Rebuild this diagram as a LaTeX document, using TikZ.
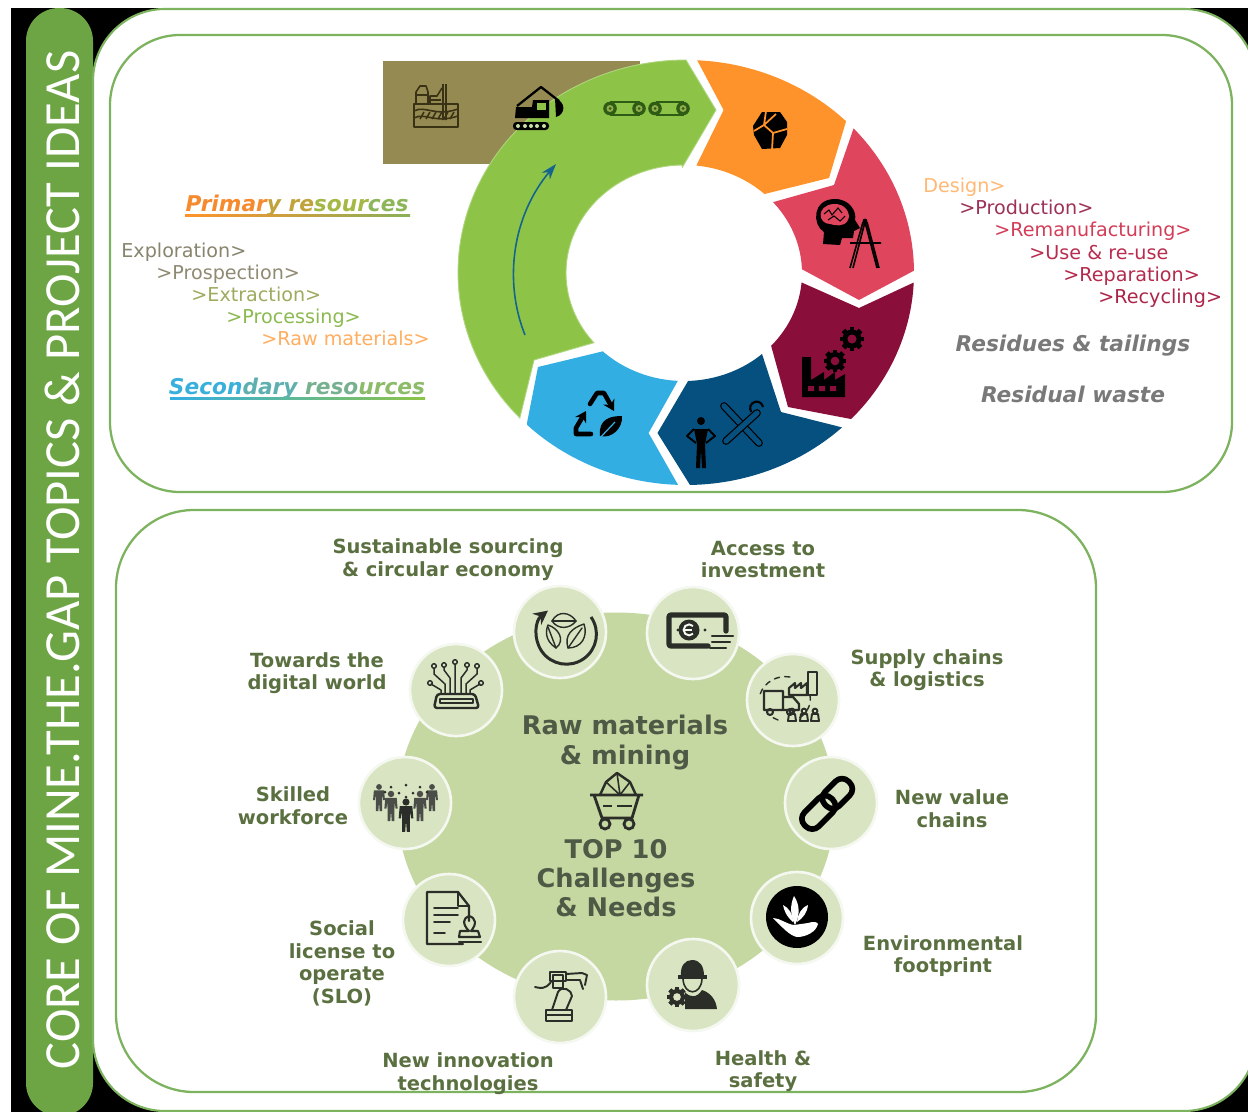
\documentclass[tikz,border=0pt]{standalone}
\usepackage{fontspec}
\setmainfont{DejaVu Sans}
\newfontfamily\barfont{Carlito}
\usetikzlibrary{arrows.meta}
\definecolor{barg}{HTML}{6DA544}
\definecolor{edgeg}{HTML}{7DB35F}
\definecolor{segG}{HTML}{8DC447}
\definecolor{segO}{HTML}{FF932B}
\definecolor{segR}{HTML}{E0455E}
\definecolor{segM}{HTML}{8A0E3A}
\definecolor{segB}{HTML}{05507F}
\definecolor{segL}{HTML}{33AEE3}
\definecolor{brownr}{HTML}{958A52}
\definecolor{minek}{HTML}{3A3214}
\definecolor{convk}{HTML}{2F5C14}
\definecolor{bigc}{HTML}{C6D8A2}
\definecolor{smallc}{HTML}{D9E4C2}
\definecolor{lab}{HTML}{5B7040}
\definecolor{cent}{HTML}{4E5A45}
\definecolor{ink}{HTML}{2B2E28}
\tikzset{
 lab/.style={font=\fontsize{11.1}{12.8}\selectfont\bfseries,text=lab,align=center,inner sep=0},
 cen/.style={font=\fontsize{14.6}{16.6}\selectfont\bfseries,text=cent,align=center,inner sep=0},
 flow/.style={font=\fontsize{10.9}{12}\selectfont,anchor=base west,inner sep=0},
 heada/.style={font=\fontsize{12.35}{14}\selectfont\bfseries\itshape,inner sep=0},
 disc/.style={circle,fill=smallc,draw=white!75!smallc,line width=1.5pt,minimum size=92*0.02cm,inner sep=0},
 thin1/.style={line width=.8pt,draw=ink,line cap=round,line join=round},
 thick1/.style={line width=1.5pt,draw=ink,line cap=round,line join=round},
}
\newcommand\iperson[4]{\begin{scope}[shift={(#1,#2)},scale=#3]
\fill[#4] (0,-9.5) circle (3.4);
\fill[#4] (-6,-5.5)--(6,-5.5)--(7,6)--(4.8,6)--(4,-1)--(3.6,6)--(3.6,19)--(0.8,19)--(0,8)--(-0.8,19)--(-3.6,19)--(-3.6,6)--(-4,-1)--(-4.8,6)--(-7,6)--cycle;
\end{scope}}
\newcommand\igear[5]{\begin{scope}[shift={(#1,#2)}]
\foreach \a in {0,45,...,315}{\fill[#4,rotate=\a] (-#3*0.26,-#3*1.25) rectangle (#3*0.26,#3*1.25);}
\fill[#4] (0,0) circle (#3);
\fill[#5] (0,0) circle (#3*0.48);
\end{scope}}
\newcommand\iwheel[2]{\fill[convk] (#1,#2) circle (6.8);\fill[segG!60!brownr] (#1,#2) circle (3.5);\fill[convk] (#1,#2) circle (1.5);}
\begin{document}
\begin{tikzpicture}[x=0.02cm,y=-0.02cm]
\useasboundingbox (0,0) rectangle (1248,1112);
\fill[white] (0,0) rectangle (1248,1112);
\fill[black] (11,8) rectangle (1248,1112);
\begin{scope}
\clip (0,0) rectangle (1248,1112);
\fill[barg,rounded corners=33*0.02cm] (26,8) rectangle (93,1116);
\path[fill=white,draw=edgeg,line width=1.2pt,rounded corners=72*0.02cm] (93,9) rectangle (1256,1111);
\end{scope}
\node[rotate=90,text=white,inner sep=0,font=\barfont\fontsize{28.8}{32}\selectfont] (title) at (62,560) {CORE OF MINE.THE.GAP TOPICS \& PROJECT IDEAS};
% panels
\draw[edgeg,line width=1.3pt,rounded corners=70*0.02cm] (110,35) rectangle (1232,492);
\draw[edgeg,line width=1.3pt,rounded corners=78*0.02cm] (116,510) rectangle (1096,1092);
% brown strip
\fill[brownr] (383,61) rectangle (640,164);
% ring
\path[fill=segG,draw=segG!70!white,line width=.5pt] plot[domain=136.8:270,samples=70] ({686+228*cos(\x)},{272.5+212.5*sin(\x)}) -- (716,110) -- (682.5,167) -- plot[domain=269:139.8,samples=70] ({684+118*cos(\x)},{273+108*sin(\x)}) -- (534,360) -- cycle;
\fill[segO] plot[domain=272.8:314.6,samples=30] ({686+228*cos(\x)},{272.5+212.5*sin(\x)}) -- (829,178) -- plot[domain=313:276,samples=30] ({684+118*cos(\x)},{273+108*sin(\x)}) -- (723.6,110) -- cycle;
\fill[segR] plot[domain=317.3:359.5,samples=30] ({686+228*cos(\x)},{272.5+212.5*sin(\x)}) -- (859,300) -- plot[domain=358:319,samples=30] ({684+118*cos(\x)},{273+108*sin(\x)}) -- (834,185) -- cycle;
\fill[segM] plot[domain=2.7:43.6,samples=30] ({686+228*cos(\x)},{272.5+212.5*sin(\x)}) -- (788,407) -- plot[domain=42.4:5,samples=30] ({684+118*cos(\x)},{273+108*sin(\x)}) -- (859,308) -- cycle;
\fill[segB] plot[domain=46.8:89,samples=30] ({686+228*cos(\x)},{272.5+212.5*sin(\x)}) -- (657.5,433) -- plot[domain=88:48.6,samples=30] ({684+118*cos(\x)},{273+108*sin(\x)}) -- (781,412) -- cycle;
\fill[segL] plot[domain=92:134.2,samples=30] ({686+228*cos(\x)},{272.5+212.5*sin(\x)}) -- (527,423) -- (538,367) -- plot[domain=133.5:93,samples=30] ({684+118*cos(\x)},{273+108*sin(\x)}) -- (648.6,433) -- cycle;
% ring arrow
\coordinate (arA) at (525,335); \coordinate (arB) at (556,164);
\draw[line width=.9pt,draw=segB!60!segL!85!black,-{Stealth[length=9pt,width=6pt]}] (arA) .. controls (503,280) and (513,215) .. (arB);
% mine icon
\begin{scope}[draw=minek,line width=.9pt,line join=round]
\draw (414,104) rectangle (458,127);
\draw (414,111) .. controls (425,105) and (435,117) .. (458,109);
\draw (414,118) .. controls (425,112) and (435,124) .. (458,116);
\foreach \q in {420,426,...,450}{\draw (\q,119) -- (\q+4,112);}
\draw (416,103) -- (416,92) -- (420,86) -- (426,86) -- (428,92) -- (428,103);
\draw (416,95) -- (428,95) (430,103) -- (430,96) -- (437,96) -- (442,88) (443,84) -- (443,120) (446,84) -- (446,120);
\draw (430,100) -- (441,100);
\end{scope}
% excavator
\fill[black] (515,118) -- (516,107) -- (532,107) -- (533,100) -- (549,100) -- (549,118) -- cycle;
\fill[segG] (537,102.5) rectangle (546,110);
\draw[black,line width=1.3pt,line join=round] (517,106) -- (541,87) -- (559,101);
\fill[black] (555,98) .. controls (566,102) and (566,114) .. (556,117) -- cycle;
\fill[black,rounded corners=3.5*0.02cm] (513,122) rectangle (549,130);
\foreach \q in {518,525,531,537,544}{\fill[segG!50!white] (\q,126) circle (2);}
% conveyor
\draw[convk,line width=1.1pt] (610,102) -- (640,102) (610,115) -- (640,115) (656,102) -- (684,102) (656,115) -- (684,115);
\iwheel{610}{108.5}
\iwheel{639}{108.5}
\iwheel{655}{108.5}
\iwheel{683}{108.5}
% rock
\fill[black] (762,112) -- (780,112) -- (787,122) -- (787,135) -- (780,148) -- (762,149) -- (754,135) -- (753,126) -- cycle;
\draw[segO,line width=1pt] (766,111) -- (764,125) -- (754,131) (764,125) -- (773,133) -- (787,129) (773,133) -- (772,150) (764,125) -- (776,114);
% head and compass
\fill[black] (835,199) .. controls (850,199) and (857,212) .. (855,220) -- (860,228) -- (854,231) -- (853,238) -- (842,238) -- (840,245) -- (823,244) -- (824,232) .. controls (812,225) and (812,199) .. (835,199) -- cycle;
\fill[segR] (833,204) .. controls (846,203) and (851,214) .. (848,220) .. controls (844,228) and (834,225) .. (830,224) .. controls (818,224) and (816,206) .. (833,204) -- cycle;
\draw[black,line width=.6pt] (824,214) -- (829,210) -- (832,215) -- (838,208) -- (842,213) (828,220) -- (834,216) -- (840,221) -- (845,216);
\fill[black] (865,221) circle (2.4);
\draw[black,line width=.9pt] (865,222) -- (853,268) (865,222) -- (877,268) (863,222) -- (850,268) (867,222) -- (879,268) (850,243) -- (881,243);
% factory and gears
\igear{852}{339}{9.5}{black}{segM}
\igear{835}{361}{9}{black}{segM}
\fill[black] (802,397) -- (802,357) -- (811,357) -- (811,380) -- (824,372) -- (824,380) -- (835,372) -- (835,380) -- (845,374) -- (845,397) -- cycle;
\fill[segM] (808,386) rectangle (814,391) (819,386) rectangle (825,391) (830,386) rectangle (836,391);
% person and tools
\fill[black] (701,421) circle (4);
\fill[black] (694,429) -- (708,429) -- (705,444) -- (706,468) -- (702,468) -- (701,449) -- (700,468) -- (696,468) -- (697,444) -- cycle;
\draw[black,line width=1.1pt,line join=round] (694,429) -- (687,436) -- (696,443) (708,429) -- (715,436) -- (706,443);
\draw[black,line width=4.4pt,line cap=round] (724,406) -- (759,443);
\draw[segB,line width=3pt,line cap=round] (724,406) -- (759,443);
\draw[black,line width=4.4pt,line cap=round] (757,413) -- (726,441);
\draw[segB,line width=3pt,line cap=round] (757,413) -- (726,441);
\draw[black,line width=1.2pt] (763,407) arc (-10:-215:6.5);
% recycle
\draw[black,line width=2.6pt,line cap=round,line join=round,-{Stealth[length=6pt,width=7pt]}] (590,404) -- (597,393) -- (604,393) -- (614,411);
\draw[black,line width=2.6pt,line cap=round,line join=round,-{Stealth[length=6pt,width=7pt]}] (591,434) -- (576,434) -- (576,428) -- (586,411);
\fill[black] (600,436) .. controls (598,418) and (612,416) .. (622,416) .. controls (623,428) and (612,439) .. (600,436) -- cycle;
\draw[segL,line width=.7pt] (598,440) -- (615,422);
% left texts
\node[heada] (prim) at (297,206) {{\color[HTML]{F58A2E}Primar}{\color[HTML]{C0A33A}y re}{\color[HTML]{A3B845}sour}{\color[HTML]{8DB65A}ces}};
\shade[left color=segO,right color=segG!70!gray] (185,214) rectangle (410,216);
\node[flow,text=gray!60!brownr] (e1) at (121,257) {Exploration>};
\node[flow,text=gray!55!brownr!95!white] (e2) at (156,279) {>Prospection>};
\node[flow,text=segG!40!brownr!90!white] (e3) at (191,301) {>Extraction>};
\node[flow,text=segG!85!gray] (e4) at (226,323) {>Processing>};
\node[flow,text=segO!75!white] (e5) at (261,345) {>Raw materials>};
\node[heada] (sec) at (297,389) {{\color[HTML]{39B0DC}Secon}{\color[HTML]{5DAFB0}dary }{\color[HTML]{77B08F}reso}{\color[HTML]{8CBB6A}urces}};
\shade[left color=segL,right color=segG] (170,397) rectangle (425,399);
% right texts
\node[flow,text=segO!65!white] (d1) at (923,192) {Design>};
\node[flow,text=segM!85!white] (d2) at (959,214) {>Production>};
\node[flow,text=segR!85!segM] (d3) at (994,236) {>Remanufacturing>};
\node[flow,text=segR!55!segM] (d4) at (1029,259) {>Use \& re-use};
\node[flow,text=segR!50!segM] (d5) at (1063,281) {>Reparation>};
\node[flow,text=segR!40!segM] (d6) at (1098,303) {>Recycling>};
\node[heada,text=gray!95!black] (r1) at (1073,346) {Residues \& tailings};
\node[heada,text=gray!95!black] (r2) at (1073,394) {Residual waste};
% lower wheel
\fill[bigc] (616,806.5) ellipse (219 and 194);
\node[disc] (c1) at (560,632) {};
\node[disc] (c2) at (693,633) {};
\node[disc] (c3) at (793,700) {};
\node[disc] (c4) at (831,803) {};
\node[disc] (c5) at (797,918) {};
\node[disc] (c6) at (693,985) {};
\node[disc] (c7) at (560,997) {};
\node[disc] (c8) at (449,920) {};
\node[disc] (c9) at (405,803) {};
\node[disc] (c10) at (456,690) {};
% labels
\node[lab] (l1) at (448,559.5) {Sustainable sourcing\\\& circular economy};
\node[lab] (l2) at (763,559.5) {Access to\\investment};
\node[lab] (l3) at (927,670) {Supply chains\\\& logistics};
\node[lab] (l4) at (952,808.5) {New value\\chains};
\node[lab] (l5) at (943,956) {Environmental\\footprint};
\node[lab] (l6) at (763,1071) {Health \&\\safety};
\node[lab] (l7) at (468,1073.5) {New innovation\\technologies};
\node[lab] (l8) at (342,963.5) {Social\\license to\\operate\\(SLO)};
\node[lab] (l9) at (293,805.5) {Skilled\\workforce};
\node[lab] (l10) at (317,673) {Towards the\\digital world};
\node[cen] (t1) at (625,742.5) {Raw materials\\\& mining};
\node[cen] (t2) at (616,878) {TOP 10\\Challenges\\\& Needs};
% cart
\draw[line width=1.4pt,draw=ink,line join=round] (600,795) -- (606,782) -- (617,773) -- (630,782) -- (636,795);
\draw[line width=.9pt,draw=ink] (606,782) -- (620,795) -- (630,782) (617,773) -- (620,795);
\draw[line width=1.6pt,draw=ink,line join=round] (590,795) -- (643,795) (594,795) -- (602,818) -- (632,818) -- (639,795);
\draw[line width=1.3pt,draw=ink] (603,806) -- (612,806) (617,806) -- (632,806);
\draw[line width=1.6pt,draw=ink] (605,824) circle (5) (629,824) circle (5);
% leaves icon
\draw[line width=1.7pt,draw=ink,-{Stealth[length=8pt,width=8pt]}] (591,617) arc[start angle=-35,end angle=232,radius=30];
\begin{scope}[thin1]
\draw (552,621) .. controls (558,610) and (570,612) .. (576,621) .. controls (570,629) and (558,630) .. cycle; \draw (552,621) -- (576,621);
\draw (556,648) .. controls (544,640) and (546,630) .. (548,625) .. controls (558,628) and (566,640) .. cycle; \draw (548,627) -- (556,648);
\draw (568,648) .. controls (564,635) and (572,628) .. (584,624) .. controls (588,636) and (582,648) .. cycle; \draw (568,648) -- (582,628);
\end{scope}
% money
\draw[thick1,line width=3pt,rounded corners=2*0.02cm] (726,631) -- (726,615) -- (669,615) -- (669,646) -- (708,646);
\fill[ink] (689,630) circle (10.5);
\draw[white!80!smallc,line width=1.1pt] (693,626) arc (-45:-315:5.5);
\draw[white!80!smallc,line width=.8pt] (683,630) -- (692,630);
\fill[ink] (678,630) circle (1.6) (705,630) circle (1.6);
\draw[thick1,line width=1.2pt] (712,636) -- (733,636) (712,642) -- (730,642) (710,648) -- (726,648);
% logistics
\draw[thin1,dashed,line width=.8pt] (790,677) arc (-80:-160:27) (778,720) arc (110:130:27);
\draw[thin1,dashed,line width=.8pt] (810,695) arc (-10:70:22);
\draw[thin1,line width=1.3pt] (764,691) rectangle (783,710) (783,697) -- (793,697) -- (799,704) -- (799,710) -- (783,710);
\draw[thin1,line width=1.2pt] (770,712) circle (3) (790,712) circle (3);
\draw[thin1,line width=1.2pt] (789,695) -- (789,688) -- (795,683) -- (795,688) -- (801,683) -- (801,688) -- (807,683) -- (807,695) -- cycle;
\draw[thin1,line width=1.2pt] (808,695) -- (808,672) -- (817,672) -- (817,695) -- (804,695);
\foreach \q in {792,804,815}{\draw[thin1,line width=1.1pt] (\q-4,721) -- (\q+4,721) -- (\q+3,714) -- (\q-3,714) -- cycle; \draw[thin1,line width=1.1pt] (\q,711) circle (2.4);}
% chain
\begin{scope}[rotate around={45:(825,806)}]
\draw[black,line width=3.2pt,rounded corners=9*0.02cm] (826,796) rectangle (859,816);
\draw[black,line width=3.2pt,rounded corners=9*0.02cm] (797,796) rectangle (835,816);
\end{scope}
% hand
\fill[black] (797,917) circle (31);
\fill[white] (773,918) .. controls (780,918) and (786,924) .. (794,925) -- (808,923) .. controls (814,921) and (817,922) .. (818,924) .. controls (816,932) and (806,937) .. (797,937) .. controls (790,936) and (782,927) .. (773,918) -- cycle;
\fill[white] (795,925) .. controls (790,915) and (790,905) .. (794,896) .. controls (800,905) and (800,915) .. (795,925) -- cycle;
\fill[white] (793,922) .. controls (786,916) and (784,910) .. (783,905) .. controls (789,908) and (793,914) .. (793,922) -- cycle;
\fill[white] (797,922) .. controls (803,918) and (807,913) .. (808,905) .. controls (801,908) and (798,914) .. (797,922) -- cycle;
% worker
\fill[ink] (681,976) .. controls (680,966) and (685,960) .. (692,960) .. controls (700,960) and (704,966) .. (704,976) -- cycle;
\fill[ink] (678,975) rectangle (707,978.5);
\draw[ink,line width=.9pt] (683,979) .. controls (684,996) and (701,996) .. (702,979);
\fill[ink] (685,992) .. controls (690,998) and (697,998) .. (702,990) .. controls (711,993) and (716,1000) .. (717,1009) -- (685,1009) -- cycle;
\igear{677}{997}{8}{ink}{smallc}
% robot
\begin{scope}[thin1,line width=1.1pt]
\draw (546,1010) rectangle (572,1021) (546,1015) -- (572,1015);
\draw (552,1010) -- (558,992) .. controls (562,985) and (572,990) .. (572,996) -- (566,1010);
\draw (553,975) rectangle (563,988) (550,972) rectangle (566,981);
\draw (566,974) -- (582,973) -- (587,975) -- (585,985) (566,980) -- (580,980) -- (583,989);
\draw (551,982) .. controls (545,990) and (540,988) .. (535,987);
\end{scope}
% document
\draw[thick1,line width=1.3pt] (463,944) -- (427,944) -- (427,892) -- (458,892) -- (469,906) -- (469,921);
\draw[thick1,line width=.9pt] (458,892) -- (458,906) -- (469,906);
\draw[thick1,line width=.9pt] (434,908) -- (458,908) (434,915) -- (458,915) (434,922) -- (450,922) (434,933) -- (445,933);
\draw[thick1,line width=1.2pt] (469,931) .. controls (462,924) and (463,918) .. (469,916) .. controls (476,918) and (477,924) .. (471,931) -- (478,931) -- (480,937) -- (459,937) -- (460,931) -- cycle;
\draw[thick1,line width=1.2pt] (459,942) -- (481,942);
% team
\iperson{379}{795}{.85}{ink!85!white}
\iperson{432}{795}{.85}{ink!85!white}
\iperson{391}{803}{.95}{ink!85!white}
\iperson{420}{803}{.95}{ink!85!white}
\iperson{406}{812}{1.05}{ink}
\foreach \q/\r in {391/787,406/785,420/787,399/793,413/793,385/792,427/792,406/797}{\fill[ink] (\q,\r) circle (1.5);}
% circuit
\draw[thick1,line width=1.4pt,rounded corners=3*0.02cm] (434,708) -- (437,694) -- (475,694) -- (479,708) -- cycle;
\draw[thick1,line width=1pt] (440,703) rectangle (473,699);
\begin{scope}[thin1,line width=.85pt]
\draw (455,664) -- (455,694) (445,694) -- (445,684) -- (434,674) -- (434,669) (466,694) -- (466,684) -- (477,674) -- (477,669);
\draw (450,694) -- (450,678) -- (444,670) -- (444,667) (461,694) -- (461,678) -- (467,670) -- (467,667);
\draw (441,694) -- (441,690) -- (431,684) (470,694) -- (470,690) -- (480,684);
\draw (434,666) circle (2.3) (444,665) circle (2.3) (455,662) circle (2.3) (467,665) circle (2.3) (477,666) circle (2.3);
\draw (430,683) circle (2.3) (481,683) circle (2.3);
\end{scope}
\end{tikzpicture}
\end{document}
